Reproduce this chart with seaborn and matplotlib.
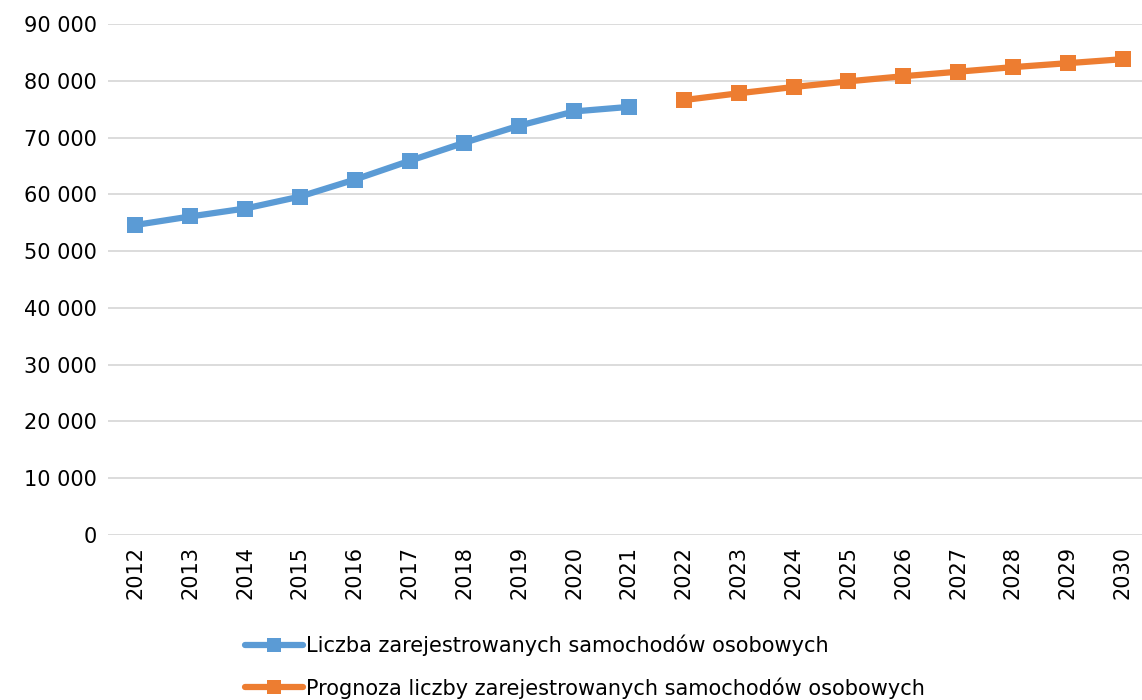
import matplotlib
matplotlib.use("Agg")
import matplotlib.pyplot as plt
import seaborn as sns
import pandas as pd
from matplotlib.lines import Line2D

years_hist = [2012, 2013, 2014, 2015, 2016, 2017, 2018, 2019, 2020, 2021]
values_hist = [54600, 56100, 57500, 59600, 62600, 65900, 69100, 72100, 74600, 75400]
years_fc = [2022, 2023, 2024, 2025, 2026, 2027, 2028, 2029, 2030]
values_fc = [76600, 77800, 78900, 79900, 80800, 81600, 82400, 83100, 83800]
label_hist = "Liczba zarejestrowanych samochodów osobowych"
label_fc = "Prognoza liczby zarejestrowanych samochodów osobowych"
y_ticks = [0, 10000, 20000, 30000, 40000, 50000, 60000, 70000, 80000, 90000]

df = pd.DataFrame({
    "year": years_hist + years_fc,
    "value": values_hist + values_fc,
    "series": [label_hist] * len(years_hist) + [label_fc] * len(years_fc),
})

sns.set_theme(style="white")
plt.rcParams["font.family"] = ["DejaVu Sans"]
plt.rcParams["text.color"] = "black"

fig = plt.figure(figsize=(11.42, 7.0), dpi=100)
ax = fig.add_axes([108 / 1142, 1 - 535 / 700, (1150 - 108) / 1142, (535 - 24) / 700])

palette = {label_hist: "#5B9BD5", label_fc: "#ED7D31"}
sns.lineplot(data=df, x="year", y="value", hue="series", palette=palette,
             marker="s", markersize=12, markeredgewidth=0, linewidth=4.5,
             ax=ax, legend=False)

ax.set_ylim(0, 90000)
ax.set_yticks(y_ticks)
ax.set_yticklabels([f"{v:,}".replace(",", " ") for v in y_ticks], fontsize=15)
all_years = years_hist + years_fc
ax.set_xticks(all_years)
ax.set_xticklabels([str(y) for y in all_years], rotation=90, fontsize=15)
ax.set_xlim(2011.5, 2030.5)
ax.set_xlabel("")
ax.set_ylabel("")
ax.grid(axis="y", color="#D9D9D9", linewidth=1.3)
ax.set_axisbelow(True)
for s in ax.spines.values():
    s.set_visible(False)
ax.tick_params(axis="both", length=0, pad=8, colors="black")

handles = [Line2D([], [], color=palette[l], linewidth=4.5, marker="s", markersize=10,
                  markeredgewidth=0) for l in (label_hist, label_fc)]
leg = fig.legend(handles, [label_hist, label_fc], loc="upper left",
                 bbox_to_anchor=(226 / 1142, 1 - 616 / 700), frameon=False,
                 fontsize=15, handlelength=2.8, handletextpad=0.15, labelspacing=1.0)
for t in leg.get_texts():
    t.set_color("black")

fig.savefig("out.png", dpi=100)
